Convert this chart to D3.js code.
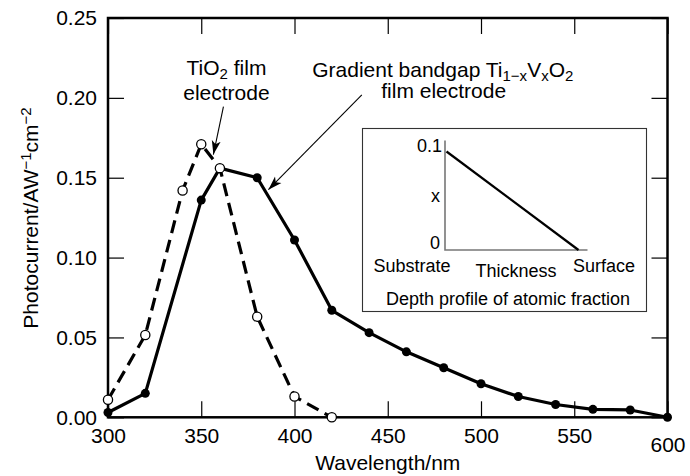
<!DOCTYPE html>
<html>
<head>
<meta charset="utf-8">
<script src="https://cdn.jsdelivr.net/npm/d3@7"></script>
<style>
body { margin: 0; background: #fff; }
svg text { font-family: "Liberation Sans", Arial, Helvetica, sans-serif; fill: #000; }
</style>
</head>
<body>
<div id="chart"></div>
<script>
// gradient bandgap Ti(1-x)V(x)O2 film (filled dots, solid line)
var gradWavelength = [300, 320, 350, 360, 380, 400, 420, 440, 460, 480, 500, 520, 540, 560, 580, 600];
var gradCurrent = [0.003, 0.015, 0.136, 0.156, 0.150, 0.111, 0.067, 0.053, 0.041, 0.031, 0.021, 0.013, 0.008, 0.005, 0.0046, 0.0];
// TiO2 film (open circles, dashed line)
var tioWavelength = [300, 320, 340, 350, 360, 380, 400, 420];
var tioCurrent = [0.011, 0.0515, 0.142, 0.171, 0.156, 0.063, 0.013, 0.0];

var xTicks = [300, 350, 400, 450, 500, 550, 600];
var yTicks = [0, 0.05, 0.10, 0.15, 0.20, 0.25];

// inset: depth profile, substrate (0) -> surface (1)
var insetPosition = [0, 1];
var insetFraction = [0.1, 0];

var width = 690, height = 476;
var plotLeft = 108, plotTop = 18, plotRight = 667.5, plotBottom = 417.3;

var svg = d3.select("#chart").append("svg")
  .attr("width", width)
  .attr("height", height);

var x = d3.scaleLinear().domain([300, 600]).range([plotLeft, plotRight]);
var y = d3.scaleLinear().domain([0, 0.25]).range([plotBottom, plotTop]);

function styleAxis(g) {
  g.attr("font-size", 21).attr("font-family", null);
  g.select(".domain").remove();
  g.selectAll(".tick line").attr("stroke", "#000").attr("stroke-width", 1.2);
}

var xAxis = svg.append("g")
  .attr("transform", "translate(0," + plotBottom + ")")
  .call(d3.axisBottom(x).tickValues(xTicks).tickSize(-16).tickPadding(11).tickFormat(d3.format("d")))
  .call(styleAxis);
// the last label sits a little lower in the original
xAxis.selectAll(".tick text").filter(function(d) { return d == 600; }).attr("y", 20);

svg.append("g")
  .attr("transform", "translate(" + plotLeft + ",0)")
  .call(d3.axisLeft(y).tickValues(yTicks).tickSize(-16).tickPadding(11).tickFormat(d3.format(".2f")))
  .call(styleAxis);

svg.append("g")
  .attr("transform", "translate(0," + plotTop + ")")
  .call(d3.axisTop(x).tickValues(xTicks).tickSize(-16).tickFormat(""))
  .call(styleAxis);

svg.append("g")
  .attr("transform", "translate(" + plotRight + ",0)")
  .call(d3.axisRight(y).tickValues(yTicks).tickSize(-16).tickFormat(""))
  .call(styleAxis);

svg.append("rect")
  .attr("x", plotLeft).attr("y", plotTop)
  .attr("width", plotRight - plotLeft).attr("height", plotBottom - plotTop)
  .attr("fill", "none")
  .attr("stroke", "#000")
  .attr("stroke-width", 2.5);

// axis titles
svg.append("text")
  .attr("x", (plotLeft + plotRight) / 2)
  .attr("y", 470)
  .attr("text-anchor", "middle")
  .attr("font-size", 21)
  .text("Wavelength/nm");

var yTitle = svg.append("text")
  .attr("transform", "translate(38,218) rotate(-90)")
  .attr("text-anchor", "middle")
  .attr("font-size", 21);
yTitle.append("tspan").text("Photocurrent/AW");
yTitle.append("tspan").attr("font-size", 15).attr("baseline-shift", "45%").text("\u22121");
yTitle.append("tspan").text("cm");
yTitle.append("tspan").attr("font-size", 15).attr("baseline-shift", "45%").text("\u22122");

// data
var gradData = d3.zip(gradWavelength, gradCurrent);
var tioData = d3.zip(tioWavelength, tioCurrent);

var line = d3.line()
  .x(function(d) { return x(d[0]); })
  .y(function(d) { return y(d[1]); });

svg.append("path")
  .datum(tioData)
  .attr("d", line)
  .attr("fill", "none")
  .attr("stroke", "#000")
  .attr("stroke-width", 3.2)
  .style("stroke-dasharray", ("13, 7"));

svg.append("path")
  .datum(gradData)
  .attr("d", line)
  .attr("fill", "none")
  .attr("stroke", "#000")
  .attr("stroke-width", 3.2)
  .attr("stroke-linejoin", "round");

svg.selectAll(".dot-grad")
  .data(gradData)
  .enter().append("circle")
  .attr("class", "dot-grad")
  .attr("cx", function(d) { return x(d[0]); })
  .attr("cy", function(d) { return y(d[1]); })
  .attr("r", 4.5)
  .attr("fill", "#000");

svg.selectAll(".dot-tio")
  .data(tioData)
  .enter().append("circle")
  .attr("class", "dot-tio")
  .attr("cx", function(d) { return x(d[0]); })
  .attr("cy", function(d) { return y(d[1]); })
  .attr("r", 4.6)
  .attr("fill", "#fff")
  .attr("stroke", "#000")
  .attr("stroke-width", 1.3);

// annotations with arrows (positions in data units)
svg.append("defs").append("marker")
  .attr("id", "arrow")
  .attr("viewBox", "0 -5 14 10")
  .attr("refX", 14).attr("refY", 0)
  .attr("markerUnits", "userSpaceOnUse")
  .attr("markerWidth", 14).attr("markerHeight", 10)
  .attr("orient", "auto")
  .append("path")
  .attr("d", "M0,-4.5L14,0L0,4.5L3.5,0Z")
  .attr("fill", "#000");

var arrows = [
  {from: [361.9, 0.1945], to: [356.5, 0.1645]},
  {from: [436.1, 0.2018], to: [386.0, 0.1425]}
];

svg.selectAll(".arrow")
  .data(arrows)
  .enter().append("line")
  .attr("class", "arrow")
  .attr("x1", function(d) { return x(d.from[0]); })
  .attr("y1", function(d) { return y(d.from[1]); })
  .attr("x2", function(d) { return x(d.to[0]); })
  .attr("y2", function(d) { return y(d.to[1]); })
  .attr("stroke", "#000")
  .attr("stroke-width", 1.1)
  .attr("marker-end", "url(#arrow)");

var tioLabel = svg.append("text")
  .attr("x", x(363.5)).attr("y", y(0.2143))
  .attr("text-anchor", "middle")
  .attr("font-size", 21);
tioLabel.append("tspan").text("TiO");
tioLabel.append("tspan").attr("font-size", 15).attr("baseline-shift", "-25%").text("2");
tioLabel.append("tspan").text(" film");

svg.append("text")
  .attr("x", x(363.5)).attr("y", y(0.1985))
  .attr("text-anchor", "middle")
  .attr("font-size", 21)
  .text("electrode");

var gradLabel = svg.append("text")
  .attr("x", x(479.5)).attr("y", y(0.2133))
  .attr("text-anchor", "middle")
  .attr("font-size", 21);
gradLabel.append("tspan").text("Gradient bandgap Ti");
gradLabel.append("tspan").attr("font-size", 15).attr("baseline-shift", "-25%").text("1\u2212x");
gradLabel.append("tspan").text("V");
gradLabel.append("tspan").attr("font-size", 15).attr("baseline-shift", "-25%").text("x");
gradLabel.append("tspan").text("O");
gradLabel.append("tspan").attr("font-size", 15).attr("baseline-shift", "-25%").text("2");

svg.append("text")
  .attr("x", x(480)).attr("y", y(0.1998))
  .attr("text-anchor", "middle")
  .attr("font-size", 21)
  .text("film electrode");

// inset: depth profile of atomic fraction
var inset = svg.append("g");

inset.append("rect")
  .attr("x", 362.5).attr("y", 128.5)
  .attr("width", 284).attr("height", 183)
  .attr("fill", "#fff")
  .attr("stroke", "#333")
  .attr("stroke-width", 1.1);

var ix = d3.scaleLinear().domain([0, 1]).range([446.5, 578.5]);
var iy = d3.scaleLinear().domain([0, 0.1]).range([250, 151.5]);

inset.append("path")
  .attr("d", "M445,140.5V250H587.5")
  .attr("fill", "none")
  .attr("stroke", "#777")
  .attr("stroke-width", 1.6);

inset.append("path")
  .datum(d3.zip(insetPosition, insetFraction))
  .attr("d", d3.line()
    .x(function(d) { return ix(d[0]); })
    .y(function(d) { return iy(d[1]); }))
  .attr("fill", "none")
  .attr("stroke", "#000")
  .attr("stroke-width", 2.2);

var insetLabels = [
  {text: "0.1", x: 442, y: 152, anchor: "end"},
  {text: "x", x: 440, y: 201.5, anchor: "end"},
  {text: "0", x: 440, y: 248.5, anchor: "end"},
  {text: "Substrate", x: 412, y: 271.5, anchor: "middle"},
  {text: "Thickness", x: 516, y: 276.5, anchor: "middle"},
  {text: "Surface", x: 604, y: 271.5, anchor: "middle"},
  {text: "Depth profile of atomic fraction", x: 508, y: 305, anchor: "middle"}
];

inset.selectAll(".inset-label")
  .data(insetLabels)
  .enter().append("text")
  .attr("class", "inset-label")
  .attr("x", function(d) { return d.x; })
  .attr("y", function(d) { return d.y; })
  .attr("text-anchor", function(d) { return d.anchor; })
  .attr("font-size", 18)
  .text(function(d) { return d.text; });
</script>
</body>
</html>
